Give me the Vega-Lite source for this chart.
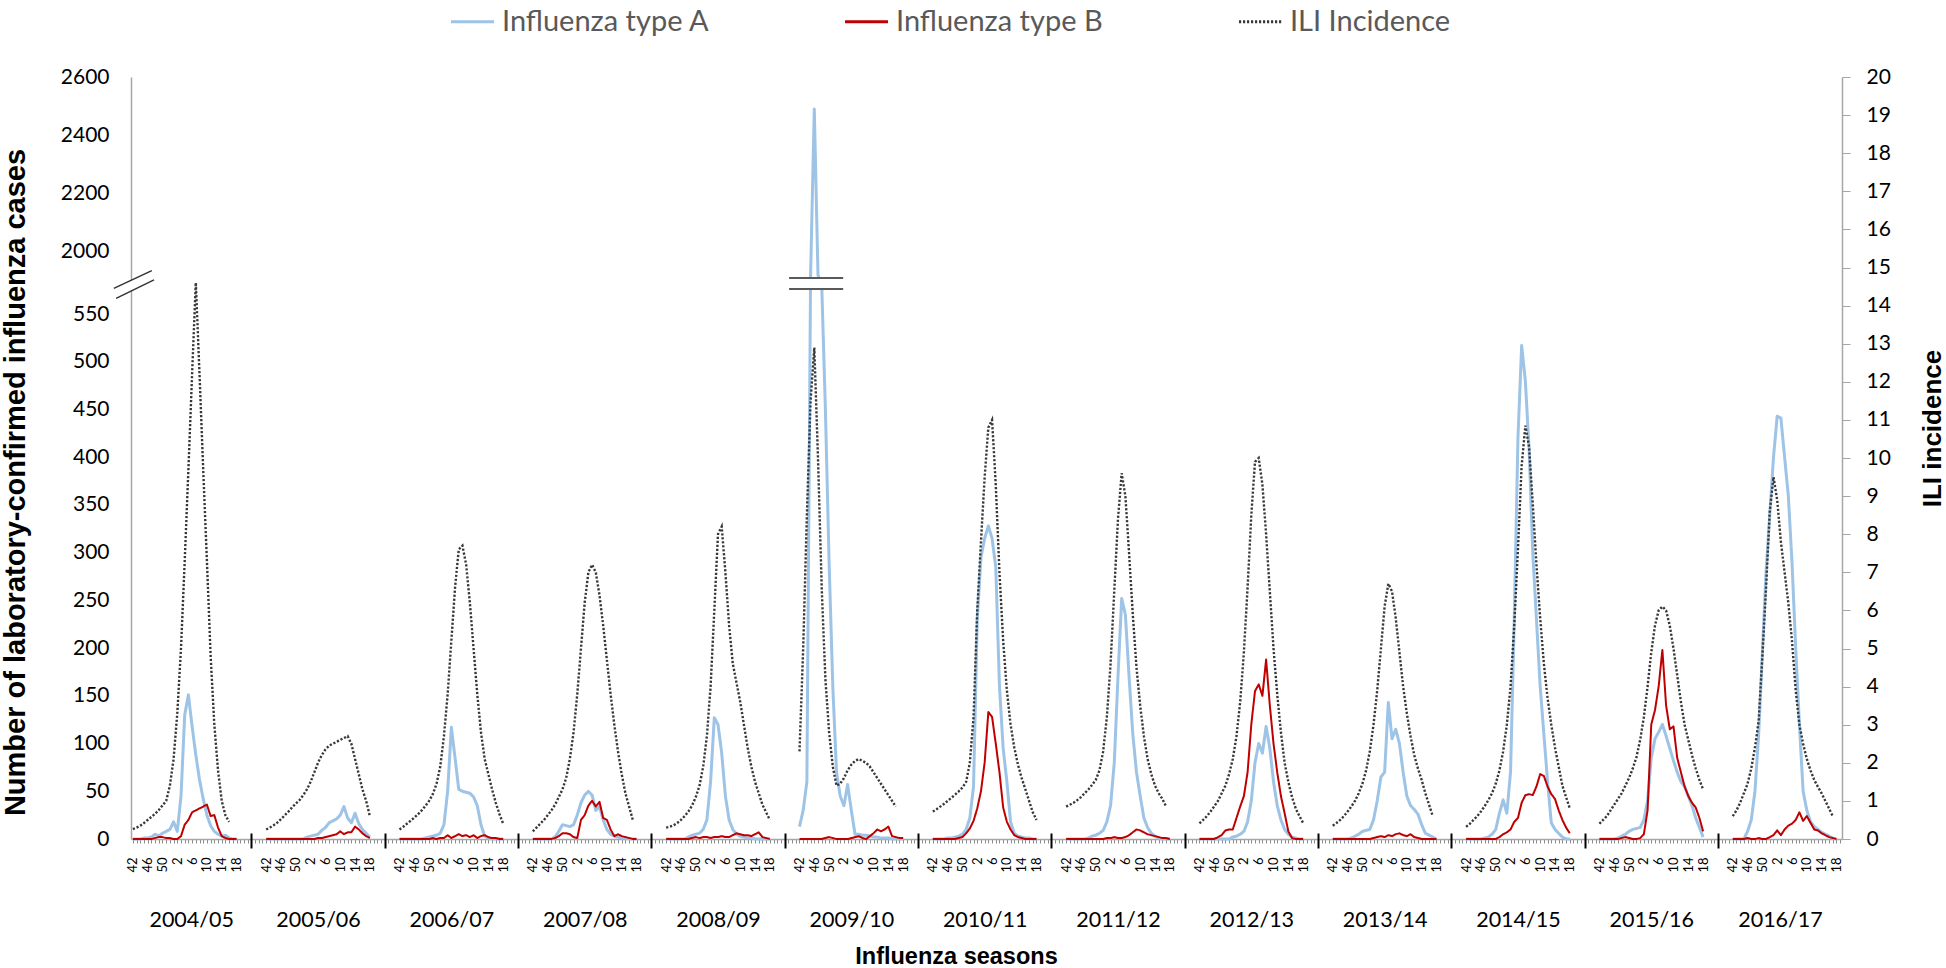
{
"$schema":"https://vega.github.io/schema/vega-lite/v6.json",
"width":1711,"height":762,"autosize":"none",
"padding":{"left":131,"top":77,"right":104,"bottom":129},
"background":"white",
"config":{"view":{"stroke":null},"font":"Lato"},
"datasets":{
"brkBand":[{"x":-4.82,"x2":5.41,"y":571.7,"y2":1919.9}],
"brkDiag":[{"x":-5.14,"x2":5.12,"y":576.9,"y2":1935.9},{"x":-4.52,"x2":5.71,"y":566.5,"y2":1904}],
"brkRect":[{"x":177.2,"x2":191.8,"y":576.2,"y2":1910.9}],
"brkRule":[{"x":177.2,"x2":191.8,"y":576.2,"y2":576.2},{"x":177.2,"x2":191.8,"y":1910.9,"y2":1910.9}],
"main":[
{"s":"2004/05","t":0,"A":0,"B":0,"ILI":0.26},{"s":"2004/05","t":1,"A":0,"B":0,"ILI":0.3},{"s":"2004/05","t":2,"A":0,"B":0,"ILI":0.35},{"s":"2004/05","t":3,"A":1,"B":0,"ILI":0.42},{"s":"2004/05","t":4,"A":1,"B":0,"ILI":0.5},{"s":"2004/05","t":5,"A":2,"B":0,"ILI":0.58},{"s":"2004/05","t":6,"A":5,"B":1,"ILI":0.66},{"s":"2004/05","t":7,"A":3,"B":2,"ILI":0.76},{"s":"2004/05","t":8,"A":6,"B":2,"ILI":0.88},{"s":"2004/05","t":9,"A":8,"B":1,"ILI":1.0},{"s":"2004/05","t":10,"A":10,"B":1,"ILI":1.4},{"s":"2004/05","t":11,"A":18,"B":0,"ILI":2.1},{"s":"2004/05","t":12,"A":8,"B":0,"ILI":3.3},{"s":"2004/05","t":13,"A":45,"B":3,"ILI":5.0},{"s":"2004/05","t":14,"A":130,"B":15,"ILI":7.3},{"s":"2004/05","t":15,"A":151,"B":20,"ILI":9.7},{"s":"2004/05","t":16,"A":118,"B":28,"ILI":12.2},{"s":"2004/05","t":17,"A":88,"B":30,"ILI":14.6},{"s":"2004/05","t":18,"A":62,"B":32,"ILI":12.2},{"s":"2004/05","t":19,"A":42,"B":34,"ILI":9.7},{"s":"2004/05","t":20,"A":25,"B":36,"ILI":7.3},{"s":"2004/05","t":21,"A":14,"B":24,"ILI":4.8},{"s":"2004/05","t":22,"A":8,"B":25,"ILI":3.0},{"s":"2004/05","t":23,"A":5,"B":12,"ILI":1.8},{"s":"2004/05","t":24,"A":3,"B":3,"ILI":1.0},{"s":"2004/05","t":25,"A":4,"B":1,"ILI":0.62},{"s":"2004/05","t":26,"A":1,"B":0,"ILI":0.45},{"s":"2004/05","t":27,"A":0,"B":0,"ILI":null},{"s":"2004/05","t":28,"A":0,"B":0,"ILI":null},
{"s":"2005/06","t":36,"A":0,"B":0,"ILI":0.25},{"s":"2005/06","t":37,"A":0,"B":0,"ILI":0.3},{"s":"2005/06","t":38,"A":0,"B":0,"ILI":0.36},{"s":"2005/06","t":39,"A":0,"B":0,"ILI":0.43},{"s":"2005/06","t":40,"A":0,"B":0,"ILI":0.52},{"s":"2005/06","t":41,"A":0,"B":0,"ILI":0.62},{"s":"2005/06","t":42,"A":0,"B":0,"ILI":0.72},{"s":"2005/06","t":43,"A":0,"B":0,"ILI":0.83},{"s":"2005/06","t":44,"A":0,"B":0,"ILI":0.93},{"s":"2005/06","t":45,"A":0,"B":0,"ILI":1.02},{"s":"2005/06","t":46,"A":0,"B":0,"ILI":1.15},{"s":"2005/06","t":47,"A":2,"B":0,"ILI":1.3},{"s":"2005/06","t":48,"A":3,"B":0,"ILI":1.5},{"s":"2005/06","t":49,"A":4,"B":0,"ILI":1.75},{"s":"2005/06","t":50,"A":5,"B":1,"ILI":2.0},{"s":"2005/06","t":51,"A":9,"B":1,"ILI":2.2},{"s":"2005/06","t":52,"A":12,"B":2,"ILI":2.35},{"s":"2005/06","t":53,"A":17,"B":3,"ILI":2.45},{"s":"2005/06","t":54,"A":19,"B":4,"ILI":2.5},{"s":"2005/06","t":55,"A":21,"B":5,"ILI":2.55},{"s":"2005/06","t":56,"A":25,"B":8,"ILI":2.6},{"s":"2005/06","t":57,"A":34,"B":5,"ILI":2.65},{"s":"2005/06","t":58,"A":22,"B":7,"ILI":2.7},{"s":"2005/06","t":59,"A":17,"B":7,"ILI":2.5},{"s":"2005/06","t":60,"A":27,"B":13,"ILI":2.1},{"s":"2005/06","t":61,"A":16,"B":10,"ILI":1.7},{"s":"2005/06","t":62,"A":10,"B":6,"ILI":1.3},{"s":"2005/06","t":63,"A":6,"B":3,"ILI":1.0},{"s":"2005/06","t":64,"A":2,"B":1,"ILI":0.6},
{"s":"2006/07","t":72,"A":0,"B":0,"ILI":0.25},{"s":"2006/07","t":73,"A":0,"B":0,"ILI":0.32},{"s":"2006/07","t":74,"A":0,"B":0,"ILI":0.4},{"s":"2006/07","t":75,"A":0,"B":0,"ILI":0.48},{"s":"2006/07","t":76,"A":0,"B":0,"ILI":0.56},{"s":"2006/07","t":77,"A":0,"B":0,"ILI":0.65},{"s":"2006/07","t":78,"A":0,"B":0,"ILI":0.75},{"s":"2006/07","t":79,"A":1,"B":0,"ILI":0.87},{"s":"2006/07","t":80,"A":2,"B":0,"ILI":1.0},{"s":"2006/07","t":81,"A":3,"B":1,"ILI":1.18},{"s":"2006/07","t":82,"A":4,"B":0,"ILI":1.45},{"s":"2006/07","t":83,"A":6,"B":1,"ILI":1.9},{"s":"2006/07","t":84,"A":15,"B":1,"ILI":2.7},{"s":"2006/07","t":85,"A":50,"B":4,"ILI":3.8},{"s":"2006/07","t":86,"A":117,"B":1,"ILI":5.2},{"s":"2006/07","t":87,"A":85,"B":3,"ILI":6.6},{"s":"2006/07","t":88,"A":52,"B":5,"ILI":7.6},{"s":"2006/07","t":89,"A":50,"B":3,"ILI":7.7},{"s":"2006/07","t":90,"A":49,"B":4,"ILI":7.2},{"s":"2006/07","t":91,"A":48,"B":2,"ILI":6.2},{"s":"2006/07","t":92,"A":44,"B":4,"ILI":5.0},{"s":"2006/07","t":93,"A":35,"B":1,"ILI":3.8},{"s":"2006/07","t":94,"A":15,"B":3,"ILI":2.8},{"s":"2006/07","t":95,"A":3,"B":4,"ILI":2.1},{"s":"2006/07","t":96,"A":1,"B":2,"ILI":1.7},{"s":"2006/07","t":97,"A":0,"B":1,"ILI":1.3},{"s":"2006/07","t":98,"A":0,"B":1,"ILI":0.95},{"s":"2006/07","t":99,"A":0,"B":0,"ILI":0.65},{"s":"2006/07","t":100,"A":0,"B":0,"ILI":0.4},
{"s":"2007/08","t":108,"A":0,"B":0,"ILI":0.2},{"s":"2007/08","t":109,"A":0,"B":0,"ILI":0.3},{"s":"2007/08","t":110,"A":0,"B":0,"ILI":0.4},{"s":"2007/08","t":111,"A":0,"B":0,"ILI":0.5},{"s":"2007/08","t":112,"A":0,"B":0,"ILI":0.62},{"s":"2007/08","t":113,"A":0,"B":0,"ILI":0.75},{"s":"2007/08","t":114,"A":2,"B":1,"ILI":0.9},{"s":"2007/08","t":115,"A":8,"B":3,"ILI":1.1},{"s":"2007/08","t":116,"A":15,"B":6,"ILI":1.3},{"s":"2007/08","t":117,"A":14,"B":6,"ILI":1.6},{"s":"2007/08","t":118,"A":13,"B":5,"ILI":2.1},{"s":"2007/08","t":119,"A":15,"B":2,"ILI":2.8},{"s":"2007/08","t":120,"A":25,"B":1,"ILI":3.8},{"s":"2007/08","t":121,"A":38,"B":20,"ILI":5.0},{"s":"2007/08","t":122,"A":46,"B":25,"ILI":6.2},{"s":"2007/08","t":123,"A":50,"B":35,"ILI":7.0},{"s":"2007/08","t":124,"A":46,"B":40,"ILI":7.2},{"s":"2007/08","t":125,"A":30,"B":34,"ILI":7.0},{"s":"2007/08","t":126,"A":34,"B":39,"ILI":6.4},{"s":"2007/08","t":127,"A":20,"B":22,"ILI":5.6},{"s":"2007/08","t":128,"A":10,"B":20,"ILI":4.7},{"s":"2007/08","t":129,"A":5,"B":10,"ILI":3.8},{"s":"2007/08","t":130,"A":3,"B":3,"ILI":3.0},{"s":"2007/08","t":131,"A":2,"B":5,"ILI":2.3},{"s":"2007/08","t":132,"A":1,"B":3,"ILI":1.7},{"s":"2007/08","t":133,"A":1,"B":2,"ILI":1.2},{"s":"2007/08","t":134,"A":0,"B":1,"ILI":0.85},{"s":"2007/08","t":135,"A":0,"B":0,"ILI":0.5},{"s":"2007/08","t":136,"A":0,"B":0,"ILI":null},
{"s":"2008/09","t":144,"A":0,"B":0,"ILI":0.3},{"s":"2008/09","t":145,"A":0,"B":0,"ILI":0.32},{"s":"2008/09","t":146,"A":0,"B":0,"ILI":0.36},{"s":"2008/09","t":147,"A":0,"B":0,"ILI":0.42},{"s":"2008/09","t":148,"A":0,"B":0,"ILI":0.5},{"s":"2008/09","t":149,"A":0,"B":0,"ILI":0.6},{"s":"2008/09","t":150,"A":2,"B":0,"ILI":0.72},{"s":"2008/09","t":151,"A":4,"B":1,"ILI":0.88},{"s":"2008/09","t":152,"A":5,"B":2,"ILI":1.1},{"s":"2008/09","t":153,"A":6,"B":1,"ILI":1.4},{"s":"2008/09","t":154,"A":10,"B":2,"ILI":1.9},{"s":"2008/09","t":155,"A":20,"B":2,"ILI":2.7},{"s":"2008/09","t":156,"A":60,"B":1,"ILI":4.0},{"s":"2008/09","t":157,"A":127,"B":2,"ILI":6.0},{"s":"2008/09","t":158,"A":120,"B":2,"ILI":8.0},{"s":"2008/09","t":159,"A":90,"B":3,"ILI":8.2},{"s":"2008/09","t":160,"A":45,"B":2,"ILI":7.0},{"s":"2008/09","t":161,"A":20,"B":2,"ILI":5.6},{"s":"2008/09","t":162,"A":10,"B":4,"ILI":4.6},{"s":"2008/09","t":163,"A":5,"B":6,"ILI":4.1},{"s":"2008/09","t":164,"A":3,"B":5,"ILI":3.6},{"s":"2008/09","t":165,"A":2,"B":4,"ILI":3.0},{"s":"2008/09","t":166,"A":1,"B":4,"ILI":2.4},{"s":"2008/09","t":167,"A":1,"B":3,"ILI":1.9},{"s":"2008/09","t":168,"A":0,"B":5,"ILI":1.5},{"s":"2008/09","t":169,"A":0,"B":7,"ILI":1.2},{"s":"2008/09","t":170,"A":0,"B":2,"ILI":0.9},{"s":"2008/09","t":171,"A":0,"B":1,"ILI":0.7},{"s":"2008/09","t":172,"A":0,"B":0,"ILI":0.5},
{"s":"2009/10","t":180,"A":13,"B":0,"ILI":2.3},{"s":"2009/10","t":181,"A":30,"B":0,"ILI":5.0},{"s":"2009/10","t":182,"A":60,"B":0,"ILI":8.5},{"s":"2009/10","t":183,"A":1920,"B":0,"ILI":11.5},{"s":"2009/10","t":184,"A":2490,"B":0,"ILI":12.9},{"s":"2009/10","t":185,"A":1920,"B":0,"ILI":10.0},{"s":"2009/10","t":186,"A":1000,"B":0,"ILI":6.6},{"s":"2009/10","t":187,"A":450,"B":1,"ILI":4.2},{"s":"2009/10","t":188,"A":290,"B":2,"ILI":2.8},{"s":"2009/10","t":189,"A":160,"B":1,"ILI":1.9},{"s":"2009/10","t":190,"A":70,"B":0,"ILI":1.4},{"s":"2009/10","t":191,"A":45,"B":0,"ILI":1.45},{"s":"2009/10","t":192,"A":35,"B":0,"ILI":1.6},{"s":"2009/10","t":193,"A":57,"B":0,"ILI":1.8},{"s":"2009/10","t":194,"A":30,"B":1,"ILI":1.95},{"s":"2009/10","t":195,"A":5,"B":2,"ILI":2.05},{"s":"2009/10","t":196,"A":5,"B":3,"ILI":2.1},{"s":"2009/10","t":197,"A":4,"B":1,"ILI":2.05},{"s":"2009/10","t":198,"A":4,"B":0,"ILI":2.0},{"s":"2009/10","t":199,"A":3,"B":3,"ILI":1.9},{"s":"2009/10","t":200,"A":2,"B":6,"ILI":1.75},{"s":"2009/10","t":201,"A":2,"B":10,"ILI":1.6},{"s":"2009/10","t":202,"A":1,"B":8,"ILI":1.45},{"s":"2009/10","t":203,"A":1,"B":10,"ILI":1.3},{"s":"2009/10","t":204,"A":1,"B":13,"ILI":1.15},{"s":"2009/10","t":205,"A":0,"B":3,"ILI":1.0},{"s":"2009/10","t":206,"A":0,"B":2,"ILI":0.85},{"s":"2009/10","t":207,"A":0,"B":1,"ILI":null},{"s":"2009/10","t":208,"A":0,"B":1,"ILI":null},
{"s":"2010/11","t":216,"A":0,"B":0,"ILI":0.72},{"s":"2010/11","t":217,"A":0,"B":0,"ILI":0.78},{"s":"2010/11","t":218,"A":0,"B":0,"ILI":0.85},{"s":"2010/11","t":219,"A":0,"B":0,"ILI":0.92},{"s":"2010/11","t":220,"A":1,"B":0,"ILI":1.0},{"s":"2010/11","t":221,"A":1,"B":0,"ILI":1.08},{"s":"2010/11","t":222,"A":2,"B":0,"ILI":1.16},{"s":"2010/11","t":223,"A":3,"B":1,"ILI":1.25},{"s":"2010/11","t":224,"A":5,"B":2,"ILI":1.35},{"s":"2010/11","t":225,"A":10,"B":6,"ILI":1.5},{"s":"2010/11","t":226,"A":22,"B":11,"ILI":2.0},{"s":"2010/11","t":227,"A":55,"B":19,"ILI":3.2},{"s":"2010/11","t":228,"A":230,"B":32,"ILI":6.0},{"s":"2010/11","t":229,"A":295,"B":50,"ILI":7.8},{"s":"2010/11","t":230,"A":315,"B":80,"ILI":9.5},{"s":"2010/11","t":231,"A":328,"B":133,"ILI":10.8},{"s":"2010/11","t":232,"A":315,"B":128,"ILI":11.0},{"s":"2010/11","t":233,"A":285,"B":100,"ILI":9.3},{"s":"2010/11","t":234,"A":160,"B":70,"ILI":7.0},{"s":"2010/11","t":235,"A":95,"B":33,"ILI":5.2},{"s":"2010/11","t":236,"A":60,"B":18,"ILI":3.9},{"s":"2010/11","t":237,"A":18,"B":10,"ILI":3.0},{"s":"2010/11","t":238,"A":6,"B":4,"ILI":2.4},{"s":"2010/11","t":239,"A":3,"B":2,"ILI":1.95},{"s":"2010/11","t":240,"A":2,"B":1,"ILI":1.6},{"s":"2010/11","t":241,"A":1,"B":0,"ILI":1.3},{"s":"2010/11","t":242,"A":1,"B":0,"ILI":1.0},{"s":"2010/11","t":243,"A":0,"B":0,"ILI":0.7},{"s":"2010/11","t":244,"A":0,"B":0,"ILI":0.5},
{"s":"2011/12","t":252,"A":0,"B":0,"ILI":0.85},{"s":"2011/12","t":253,"A":0,"B":0,"ILI":0.9},{"s":"2011/12","t":254,"A":0,"B":0,"ILI":0.95},{"s":"2011/12","t":255,"A":0,"B":0,"ILI":1.02},{"s":"2011/12","t":256,"A":0,"B":0,"ILI":1.1},{"s":"2011/12","t":257,"A":0,"B":0,"ILI":1.2},{"s":"2011/12","t":258,"A":1,"B":0,"ILI":1.3},{"s":"2011/12","t":259,"A":3,"B":0,"ILI":1.42},{"s":"2011/12","t":260,"A":4,"B":0,"ILI":1.55},{"s":"2011/12","t":261,"A":6,"B":0,"ILI":1.8},{"s":"2011/12","t":262,"A":9,"B":0,"ILI":2.3},{"s":"2011/12","t":263,"A":18,"B":1,"ILI":3.2},{"s":"2011/12","t":264,"A":35,"B":1,"ILI":4.6},{"s":"2011/12","t":265,"A":80,"B":2,"ILI":6.5},{"s":"2011/12","t":266,"A":170,"B":1,"ILI":8.4},{"s":"2011/12","t":267,"A":252,"B":1,"ILI":9.6},{"s":"2011/12","t":268,"A":235,"B":2,"ILI":9.0},{"s":"2011/12","t":269,"A":170,"B":4,"ILI":7.5},{"s":"2011/12","t":270,"A":110,"B":7,"ILI":5.9},{"s":"2011/12","t":271,"A":70,"B":10,"ILI":4.5},{"s":"2011/12","t":272,"A":45,"B":9,"ILI":3.5},{"s":"2011/12","t":273,"A":22,"B":7,"ILI":2.7},{"s":"2011/12","t":274,"A":12,"B":5,"ILI":2.1},{"s":"2011/12","t":275,"A":6,"B":4,"ILI":1.7},{"s":"2011/12","t":276,"A":3,"B":3,"ILI":1.4},{"s":"2011/12","t":277,"A":1,"B":2,"ILI":1.2},{"s":"2011/12","t":278,"A":0,"B":1,"ILI":1.05},{"s":"2011/12","t":279,"A":0,"B":1,"ILI":0.85},{"s":"2011/12","t":280,"A":0,"B":0,"ILI":null},
{"s":"2012/13","t":288,"A":0,"B":0,"ILI":0.41},{"s":"2012/13","t":289,"A":0,"B":0,"ILI":0.5},{"s":"2012/13","t":290,"A":0,"B":0,"ILI":0.6},{"s":"2012/13","t":291,"A":0,"B":0,"ILI":0.72},{"s":"2012/13","t":292,"A":0,"B":0,"ILI":0.86},{"s":"2012/13","t":293,"A":0,"B":2,"ILI":1.0},{"s":"2012/13","t":294,"A":0,"B":4,"ILI":1.2},{"s":"2012/13","t":295,"A":0,"B":9,"ILI":1.4},{"s":"2012/13","t":296,"A":0,"B":10,"ILI":1.7},{"s":"2012/13","t":297,"A":2,"B":10,"ILI":2.1},{"s":"2012/13","t":298,"A":3,"B":22,"ILI":2.7},{"s":"2012/13","t":299,"A":5,"B":34,"ILI":3.6},{"s":"2012/13","t":300,"A":8,"B":45,"ILI":4.9},{"s":"2012/13","t":301,"A":18,"B":70,"ILI":6.6},{"s":"2012/13","t":302,"A":40,"B":120,"ILI":8.5},{"s":"2012/13","t":303,"A":80,"B":155,"ILI":9.9},{"s":"2012/13","t":304,"A":100,"B":162,"ILI":10.0},{"s":"2012/13","t":305,"A":90,"B":150,"ILI":9.3},{"s":"2012/13","t":306,"A":118,"B":188,"ILI":8.0},{"s":"2012/13","t":307,"A":95,"B":140,"ILI":6.5},{"s":"2012/13","t":308,"A":60,"B":100,"ILI":5.0},{"s":"2012/13","t":309,"A":35,"B":70,"ILI":3.8},{"s":"2012/13","t":310,"A":20,"B":45,"ILI":2.8},{"s":"2012/13","t":311,"A":10,"B":27,"ILI":2.0},{"s":"2012/13","t":312,"A":5,"B":8,"ILI":1.5},{"s":"2012/13","t":313,"A":2,"B":1,"ILI":1.1},{"s":"2012/13","t":314,"A":1,"B":0,"ILI":0.8},{"s":"2012/13","t":315,"A":0,"B":0,"ILI":0.6},{"s":"2012/13","t":316,"A":0,"B":0,"ILI":0.42},
{"s":"2013/14","t":324,"A":0,"B":0,"ILI":0.35},{"s":"2013/14","t":325,"A":0,"B":0,"ILI":0.42},{"s":"2013/14","t":326,"A":0,"B":0,"ILI":0.5},{"s":"2013/14","t":327,"A":0,"B":0,"ILI":0.6},{"s":"2013/14","t":328,"A":0,"B":0,"ILI":0.72},{"s":"2013/14","t":329,"A":1,"B":0,"ILI":0.85},{"s":"2013/14","t":330,"A":3,"B":0,"ILI":1.0},{"s":"2013/14","t":331,"A":5,"B":0,"ILI":1.2},{"s":"2013/14","t":332,"A":8,"B":0,"ILI":1.45},{"s":"2013/14","t":333,"A":9,"B":0,"ILI":1.8},{"s":"2013/14","t":334,"A":10,"B":0,"ILI":2.3},{"s":"2013/14","t":335,"A":20,"B":1,"ILI":3.0},{"s":"2013/14","t":336,"A":40,"B":2,"ILI":3.9},{"s":"2013/14","t":337,"A":65,"B":3,"ILI":5.0},{"s":"2013/14","t":338,"A":70,"B":2,"ILI":6.1},{"s":"2013/14","t":339,"A":143,"B":4,"ILI":6.7},{"s":"2013/14","t":340,"A":105,"B":3,"ILI":6.5},{"s":"2013/14","t":341,"A":115,"B":5,"ILI":5.8},{"s":"2013/14","t":342,"A":100,"B":6,"ILI":4.9},{"s":"2013/14","t":343,"A":70,"B":4,"ILI":4.0},{"s":"2013/14","t":344,"A":45,"B":3,"ILI":3.3},{"s":"2013/14","t":345,"A":35,"B":5,"ILI":2.7},{"s":"2013/14","t":346,"A":31,"B":2,"ILI":2.2},{"s":"2013/14","t":347,"A":26,"B":1,"ILI":1.85},{"s":"2013/14","t":348,"A":15,"B":0,"ILI":1.55},{"s":"2013/14","t":349,"A":6,"B":0,"ILI":1.2},{"s":"2013/14","t":350,"A":4,"B":0,"ILI":0.9},{"s":"2013/14","t":351,"A":2,"B":0,"ILI":0.6},{"s":"2013/14","t":352,"A":0,"B":0,"ILI":null},
{"s":"2014/15","t":360,"A":0,"B":0,"ILI":0.32},{"s":"2014/15","t":361,"A":0,"B":0,"ILI":0.4},{"s":"2014/15","t":362,"A":0,"B":0,"ILI":0.5},{"s":"2014/15","t":363,"A":0,"B":0,"ILI":0.6},{"s":"2014/15","t":364,"A":0,"B":0,"ILI":0.72},{"s":"2014/15","t":365,"A":1,"B":0,"ILI":0.86},{"s":"2014/15","t":366,"A":2,"B":0,"ILI":1.02},{"s":"2014/15","t":367,"A":5,"B":0,"ILI":1.2},{"s":"2014/15","t":368,"A":10,"B":0,"ILI":1.45},{"s":"2014/15","t":369,"A":27,"B":2,"ILI":1.8},{"s":"2014/15","t":370,"A":41,"B":5,"ILI":2.3},{"s":"2014/15","t":371,"A":27,"B":7,"ILI":3.0},{"s":"2014/15","t":372,"A":70,"B":10,"ILI":4.0},{"s":"2014/15","t":373,"A":230,"B":18,"ILI":5.6},{"s":"2014/15","t":374,"A":420,"B":22,"ILI":7.6},{"s":"2014/15","t":375,"A":517,"B":38,"ILI":9.8},{"s":"2014/15","t":376,"A":480,"B":46,"ILI":10.85},{"s":"2014/15","t":377,"A":410,"B":47,"ILI":10.3},{"s":"2014/15","t":378,"A":300,"B":46,"ILI":8.8},{"s":"2014/15","t":379,"A":230,"B":55,"ILI":7.2},{"s":"2014/15","t":380,"A":160,"B":68,"ILI":5.8},{"s":"2014/15","t":381,"A":110,"B":66,"ILI":4.6},{"s":"2014/15","t":382,"A":60,"B":55,"ILI":3.7},{"s":"2014/15","t":383,"A":17,"B":47,"ILI":3.0},{"s":"2014/15","t":384,"A":10,"B":42,"ILI":2.4},{"s":"2014/15","t":385,"A":6,"B":30,"ILI":1.9},{"s":"2014/15","t":386,"A":2,"B":20,"ILI":1.4},{"s":"2014/15","t":387,"A":0,"B":12,"ILI":1.1},{"s":"2014/15","t":388,"A":0,"B":6,"ILI":0.8},
{"s":"2015/16","t":396,"A":0,"B":0,"ILI":0.4},{"s":"2015/16","t":397,"A":0,"B":0,"ILI":0.5},{"s":"2015/16","t":398,"A":0,"B":0,"ILI":0.6},{"s":"2015/16","t":399,"A":0,"B":0,"ILI":0.75},{"s":"2015/16","t":400,"A":0,"B":0,"ILI":0.9},{"s":"2015/16","t":401,"A":1,"B":0,"ILI":1.05},{"s":"2015/16","t":402,"A":3,"B":1,"ILI":1.2},{"s":"2015/16","t":403,"A":5,"B":2,"ILI":1.4},{"s":"2015/16","t":404,"A":8,"B":1,"ILI":1.6},{"s":"2015/16","t":405,"A":10,"B":0,"ILI":1.85},{"s":"2015/16","t":406,"A":11,"B":0,"ILI":2.15},{"s":"2015/16","t":407,"A":12,"B":1,"ILI":2.6},{"s":"2015/16","t":408,"A":20,"B":5,"ILI":3.2},{"s":"2015/16","t":409,"A":40,"B":30,"ILI":4.0},{"s":"2015/16","t":410,"A":85,"B":120,"ILI":4.9},{"s":"2015/16","t":411,"A":105,"B":135,"ILI":5.6},{"s":"2015/16","t":412,"A":112,"B":160,"ILI":6.0},{"s":"2015/16","t":413,"A":120,"B":198,"ILI":6.1},{"s":"2015/16","t":414,"A":108,"B":140,"ILI":6.0},{"s":"2015/16","t":415,"A":95,"B":115,"ILI":5.6},{"s":"2015/16","t":416,"A":82,"B":118,"ILI":5.0},{"s":"2015/16","t":417,"A":70,"B":85,"ILI":4.3},{"s":"2015/16","t":418,"A":60,"B":70,"ILI":3.6},{"s":"2015/16","t":419,"A":55,"B":55,"ILI":3.0},{"s":"2015/16","t":420,"A":45,"B":45,"ILI":2.6},{"s":"2015/16","t":421,"A":35,"B":38,"ILI":2.2},{"s":"2015/16","t":422,"A":22,"B":33,"ILI":1.85},{"s":"2015/16","t":423,"A":12,"B":22,"ILI":1.55},{"s":"2015/16","t":424,"A":2,"B":8,"ILI":1.3},
{"s":"2016/17","t":432,"A":0,"B":0,"ILI":0.6},{"s":"2016/17","t":433,"A":0,"B":0,"ILI":0.75},{"s":"2016/17","t":434,"A":0,"B":0,"ILI":0.95},{"s":"2016/17","t":435,"A":0,"B":0,"ILI":1.2},{"s":"2016/17","t":436,"A":8,"B":1,"ILI":1.45},{"s":"2016/17","t":437,"A":20,"B":0,"ILI":1.85},{"s":"2016/17","t":438,"A":50,"B":0,"ILI":2.4},{"s":"2016/17","t":439,"A":110,"B":1,"ILI":3.1},{"s":"2016/17","t":440,"A":195,"B":0,"ILI":4.8},{"s":"2016/17","t":441,"A":280,"B":0,"ILI":6.6},{"s":"2016/17","t":442,"A":340,"B":2,"ILI":8.6},{"s":"2016/17","t":443,"A":400,"B":4,"ILI":9.5},{"s":"2016/17","t":444,"A":443,"B":9,"ILI":8.9},{"s":"2016/17","t":445,"A":441,"B":4,"ILI":7.8},{"s":"2016/17","t":446,"A":400,"B":10,"ILI":7.0},{"s":"2016/17","t":447,"A":360,"B":14,"ILI":6.2},{"s":"2016/17","t":448,"A":290,"B":16,"ILI":5.2},{"s":"2016/17","t":449,"A":200,"B":20,"ILI":3.9},{"s":"2016/17","t":450,"A":120,"B":28,"ILI":3.0},{"s":"2016/17","t":451,"A":50,"B":19,"ILI":2.5},{"s":"2016/17","t":452,"A":30,"B":24,"ILI":2.1},{"s":"2016/17","t":453,"A":18,"B":17,"ILI":1.8},{"s":"2016/17","t":454,"A":13,"B":10,"ILI":1.55},{"s":"2016/17","t":455,"A":10,"B":9,"ILI":1.37},{"s":"2016/17","t":456,"A":7,"B":6,"ILI":1.2},{"s":"2016/17","t":457,"A":5,"B":4,"ILI":1.0},{"s":"2016/17","t":458,"A":3,"B":2,"ILI":0.8},{"s":"2016/17","t":459,"A":1,"B":1,"ILI":0.6},{"s":"2016/17","t":460,"A":0,"B":0,"ILI":null}
]},
"layer":[
{"layer":[
 {"data":{"name":"main"},
  "transform":[{"fold":["A"],"as":["series","value"]}],
  "mark":{"type":"line","strokeWidth":3,"strokeJoin":"round"},
  "encoding":{
   "x":{"field":"t","type":"quantitative","scale":{"domain":[-0.5,461.5],"nice":false,"zero":false},
     "axis":{"orient":"bottom","tickCount":462,"labelExpr":"datum.value % 36 <= 28 && datum.value % 4 == 0 ? '' + (datum.value % 36 <= 10 ? 42 + datum.value % 36 : datum.value % 36 - 10) : ''","labelAngle":270,"labelFont":"Lato","labelFontSize":13,"labelColor":"#000","labelPadding":14,"labelOverlap":false,"labelFlush":false,"ticks":true,"tickSize":4,"tickColor":"#8C8C8C","tickWidth":1,"domainColor":"#A6A6A6","domainWidth":1.5,"grid":false,
       "title":"Influenza seasons","titleFont":"Liberation Sans","titleFontSize":23.5,"titleFontWeight":"bold","titleColor":"#000","titleX":825,"titleY":117,"titleAlign":"center","titleBaseline":"middle","titleAngle":0}},
   "y":{"field":"value","type":"quantitative","scale":{"domain":[0,581.5,1890,2600],"range":[762,207,207,0],"zero":false,"nice":false},
     "axis":{"orient":"left","values":[0,50,100,150,200,250,300,350,400,450,500,550,2000,2200,2400,2600],"format":"d","labelFont":"Lato","labelFontSize":21,"labelColor":"#000","labelPadding":22,"ticks":false,"domainColor":"#A6A6A6","domainWidth":1.5,"grid":false,
       "title":"Number of laboratory-confirmed influenza cases","titleFont":"Liberation Sans","titleFontSize":29,"titleFontWeight":"bold","titleColor":"#000","titleAngle":270,"titleX":-116,"titleY":405,"titleAlign":"center","titleBaseline":"middle"}},
   "color":{"field":"series","type":"nominal","scale":{"domain":["A","B","ILI"],"range":["#9DC3E6","#C00000","#383838"]},
     "legend":{"orient":"none","legendX":318,"legendY":-79,"direction":"horizontal","title":null,"symbolType":"stroke","symbolSize":1850,"symbolStrokeWidth":3,"labelFont":"Lato","labelFontSize":29,"labelColor":"#595959","labelOffset":6,"labelLimit":500,"columnPadding":128,"gridAlign":"all","labelExpr":"datum.label == 'A' ? 'Influenza type A' : datum.label == 'B' ? 'Influenza type B' : 'ILI Incidence'"}},
   "strokeDash":{"field":"series","type":"nominal","scale":{"domain":["A","B","ILI"],"range":[[1,0],[1,0],[2.2,1.8]]},
     "legend":{"orient":"none","legendX":318,"legendY":-79,"direction":"horizontal","title":null,"symbolType":"stroke","symbolSize":1850,"symbolStrokeWidth":3,"labelFont":"Lato","labelFontSize":29,"labelColor":"#595959","labelOffset":6,"labelLimit":500,"columnPadding":128,"gridAlign":"all","labelExpr":"datum.label == 'A' ? 'Influenza type A' : datum.label == 'B' ? 'Influenza type B' : 'ILI Incidence'"}},
   "detail":{"field":"s"}
  }},
 {"data":{"name":"main"},
  "transform":[{"fold":["B"],"as":["series","value"]}],
  "mark":{"type":"line","strokeWidth":2,"strokeJoin":"round"},
  "encoding":{
   "x":{"field":"t","type":"quantitative","scale":{"domain":[-0.5,461.5],"nice":false,"zero":false}},
   "y":{"field":"value","type":"quantitative","scale":{"domain":[0,581.5,1890,2600],"range":[762,207,207,0],"zero":false,"nice":false}},
   "color":{"field":"series","type":"nominal","scale":{"domain":["A","B","ILI"],"range":["#9DC3E6","#C00000","#383838"]}},
   "strokeDash":{"field":"series","type":"nominal","scale":{"domain":["A","B","ILI"],"range":[[1,0],[1,0],[2.2,1.8]]}},
   "detail":{"field":"s"}
  }},
 {"data":{"name":"brkRect"},
  "mark":{"type":"rect","fill":"white","clip":false},
  "encoding":{
   "x":{"field":"x","type":"quantitative","scale":{"domain":[-0.5,461.5],"nice":false,"zero":false}},"x2":{"field":"x2"},
   "y":{"field":"y","type":"quantitative","scale":{"domain":[0,581.5,1890,2600],"range":[762,207,207,0],"zero":false,"nice":false}},"y2":{"field":"y2"}}},
 {"data":{"name":"brkRule"},
  "mark":{"type":"rule","color":"#595959","strokeWidth":2,"clip":false},
  "encoding":{
   "x":{"field":"x","type":"quantitative","scale":{"domain":[-0.5,461.5],"nice":false,"zero":false}},"x2":{"field":"x2"},
   "y":{"field":"y","type":"quantitative","scale":{"domain":[0,581.5,1890,2600],"range":[762,207,207,0],"zero":false,"nice":false}},"y2":{"field":"y2"}}},
 {"data":{"name":"brkBand"},
  "mark":{"type":"rule","color":"white","strokeWidth":9,"clip":false},
  "encoding":{
   "x":{"field":"x","type":"quantitative","scale":{"domain":[-0.5,461.5],"nice":false,"zero":false}},"x2":{"field":"x2"},
   "y":{"field":"y","type":"quantitative","scale":{"domain":[0,581.5,1890,2600],"range":[762,207,207,0],"zero":false,"nice":false}},"y2":{"field":"y2"}}},
 {"data":{"name":"brkDiag"},
  "mark":{"type":"rule","color":"#333333","strokeWidth":1.5,"clip":false},
  "encoding":{
   "x":{"field":"x","type":"quantitative","scale":{"domain":[-0.5,461.5],"nice":false,"zero":false}},"x2":{"field":"x2"},
   "y":{"field":"y","type":"quantitative","scale":{"domain":[0,581.5,1890,2600],"range":[762,207,207,0],"zero":false,"nice":false}},"y2":{"field":"y2"}}}
]},
{"data":{"name":"main"},
 "transform":[{"fold":["ILI"],"as":["series","value"]}],
 "mark":{"type":"line","strokeWidth":2.4,"strokeCap":"butt"},
 "encoding":{
  "x":{"field":"t","type":"quantitative","scale":{"domain":[-0.5,461.5],"nice":false,"zero":false},
    "axis":{"orient":"bottom","values":[15.75,50,86,122,158,194,230,266,302,338,374,410,444.75],"labelExpr":"['2004/05','2005/06','2006/07','2007/08','2008/09','2009/10','2010/11','2011/12','2012/13','2013/14','2014/15','2015/16','2016/17'][floor((datum.value + 4) / 36)]","ticks":false,"domain":false,"grid":false,"labelPadding":81,"labelBaseline":"middle","labelAngle":0,"labelFont":"Lato","labelFontSize":21.5,"labelColor":"#000","labelOverlap":false,"labelFlush":false,"title":null}},
  "y":{"field":"value","type":"quantitative","scale":{"domain":[0,20],"zero":false,"nice":false},
    "axis":{"orient":"right","values":[0,1,2,3,4,5,6,7,8,9,10,11,12,13,14,15,16,17,18,19,20],"labelFont":"Lato","labelFontSize":21,"labelColor":"#000","labelPadding":16,"ticks":true,"tickSize":8,"tickColor":"#A6A6A6","domainColor":"#A6A6A6","domainWidth":1.5,"grid":false,
      "title":"ILI incidence","titleFont":"Liberation Sans","titleFontSize":26,"titleFontWeight":"bold","titleColor":"#000","titleAngle":270,"titleX":90,"titleY":351,"titleAlign":"center","titleBaseline":"middle"}},
  "color":{"field":"series","type":"nominal","scale":{"domain":["A","B","ILI"],"range":["#9DC3E6","#C00000","#383838"]}},
  "strokeDash":{"field":"series","type":"nominal","scale":{"domain":["A","B","ILI"],"range":[[1,0],[1,0],[2.2,1.8]]}},
  "detail":{"field":"s"}
 }},
{"data":{"name":"main"},
 "mark":{"type":"rule","opacity":0},
 "encoding":{
  "x":{"field":"t","type":"quantitative","scale":{"domain":[-0.5,461.5],"nice":false,"zero":false},
    "axis":{"orient":"bottom","values":[32,68,104,140,176,212,248,284,320,356,392,428],"labels":false,"domain":false,"grid":false,"ticks":true,"tickSize":15,"tickWidth":2,"tickColor":"#000","offset":-6,"title":null}}
 }}
],
"resolve":{"scale":{"y":"independent"},"axis":{"x":"independent","y":"independent"}}
}
